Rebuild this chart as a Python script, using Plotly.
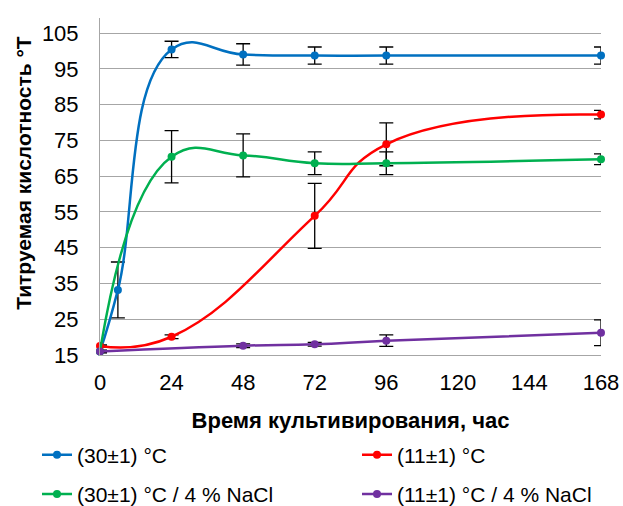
import plotly.graph_objects as go

# Data
hours_30 = [0, 6, 24, 48, 72, 96, 168]
acid_30 = [16.0, 33.2, 100.4, 99.0, 98.7, 98.7, 98.7]
err_30 = [0.3, 7.8, 2.3, 3.0, 2.4, 2.4, 2.4]

hours_11 = [0, 24, 72, 96, 168]
acid_11 = [17.5, 20.1, 53.9, 73.9, 82.2]
err_11 = [0.3, 0.5, 9.1, 6.0, 1.2]

hours_30_nacl = [0, 24, 48, 72, 96, 168]
acid_30_nacl = [16.0, 70.4, 70.8, 68.6, 68.6, 69.7]
err_30_nacl = [0.3, 7.3, 6.0, 3.2, 3.2, 1.5]

hours_11_nacl = [0, 48, 72, 96, 168]
acid_11_nacl = [16.0, 17.6, 18.0, 19.0, 21.2]
err_11_nacl = [0.3, 0.5, 0.5, 1.6, 3.6]

series_names = ["(30±1) °C", "(11±1) °C", "(30±1) °C / 4 % NaCl", "(11±1) °C / 4 % NaCl"]
series_colors = ["#0070C0", "#FF0000", "#00B050", "#7030A0"]

x_ticks = [0, 24, 48, 72, 96, 120, 144, 168]
y_ticks = [15, 25, 35, 45, 55, 65, 75, 85, 95, 105]

x_title = "Время культивирования, час"
y_title = "Титруемая кислотность °Т"

FONT = "Liberation Sans, Arial, sans-serif"

fig = go.Figure()
for i, (xs, ys, es, name, col, leg) in enumerate([
    (hours_30, acid_30, err_30, series_names[0], series_colors[0], "legend"),
    (hours_11, acid_11, err_11, series_names[1], series_colors[1], "legend2"),
    (hours_30_nacl, acid_30_nacl, err_30_nacl, series_names[2], series_colors[2], "legend"),
    (hours_11_nacl, acid_11_nacl, err_11_nacl, series_names[3], series_colors[3], "legend2"),
]):
    fig.add_trace(go.Scatter(
        x=xs, y=ys, name=name, mode="lines+markers",
        line=dict(color=col, width=2.5, shape="spline", smoothing=1.3),
        marker=dict(color=col, size=8),
        error_y=dict(type="data", array=es, visible=True, color="black",
                     thickness=1.3, width=7),
        cliponaxis=False, legend=leg, legendgroup=f"g{i}",
    ))

legend_common = dict(
    orientation="v", xref="container", yref="container",
    yanchor="top", xanchor="left", y=0.141,
    font=dict(size=21, family=FONT), tracegroupgap=9,
    bgcolor="rgba(0,0,0,0)",
)

fig.update_layout(
    width=623, height=506,
    margin=dict(l=100, r=22, t=18, b=151, autoexpand=False),
    plot_bgcolor="white", paper_bgcolor="white",
    font=dict(family=FONT, size=22, color="black"),
    showlegend=True,
    legend=dict(x=37 / 623, **legend_common),
    legend2=dict(x=357 / 623, **legend_common),
    annotations=[dict(
        text=f"<b>{y_title}</b>", textangle=-90,
        xref="paper", yref="paper", x=-0.154, y=0.54,
        xanchor="center", yanchor="middle", showarrow=False,
        font=dict(size=21, family=FONT, color="black"),
    )],
)
fig.update_xaxes(
    range=[0, 168], tickvals=x_ticks, ticktext=[str(v) for v in x_ticks],
    showgrid=False, zeroline=False, showline=True, linecolor="#A6A6A6", linewidth=1,
    ticks="", ticklabelstandoff=8,
    tickfont=dict(size=22, family=FONT),
    title=dict(text=f"<b>{x_title}</b>", font=dict(size=22, family=FONT), standoff=18),
)
fig.update_yaxes(
    range=[15, 109.2], tickvals=y_ticks, ticktext=[str(v) for v in y_ticks],
    showgrid=True, gridcolor="#A6A6A6", gridwidth=1, zeroline=False,
    showline=True, linecolor="#A6A6A6", linewidth=1,
    ticks="", ticklabelstandoff=16,
    tickfont=dict(size=22, family=FONT),
)

fig.write_html("out.html")
